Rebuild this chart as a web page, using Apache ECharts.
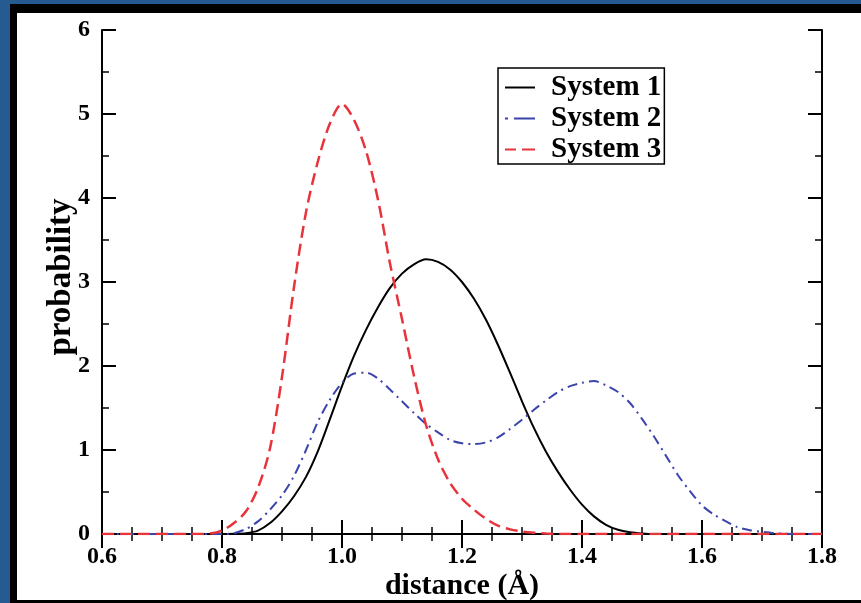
<!DOCTYPE html>
<html>
<head>
<meta charset="utf-8">
<script src="https://cdn.jsdelivr.net/npm/echarts@6/dist/echarts.min.js"></script>
<style>
  html, body { margin: 0; padding: 0; background: #ffffff; }
  #chart { width: 861px; height: 603px; }
</style>
</head>
<body>
<div id="chart"></div>
<script>
// Distance grid (Å), sampled every 0.02 from 0.6 to 1.8
const distance = [
  0.60, 0.62, 0.64, 0.66, 0.68, 0.70, 0.72, 0.74, 0.76, 0.78,
  0.80, 0.82, 0.84, 0.86, 0.88, 0.90, 0.92, 0.94, 0.96, 0.98,
  1.00, 1.02, 1.04, 1.06, 1.08, 1.10, 1.12, 1.14, 1.16, 1.18,
  1.20, 1.22, 1.24, 1.26, 1.28, 1.30, 1.32, 1.34, 1.36, 1.38,
  1.40, 1.42, 1.44, 1.46, 1.48, 1.50, 1.52, 1.54, 1.56, 1.58,
  1.60, 1.62, 1.64, 1.66, 1.68, 1.70, 1.72, 1.74, 1.76, 1.78,
  1.80
];

// Probability distributions for each system
const system1 = [
  0, 0, 0, 0, 0, 0, 0, 0, 0, 0,
  0, 0.003, 0.01, 0.04, 0.13, 0.27, 0.45, 0.68, 0.99, 1.37,
  1.76, 2.12, 2.43, 2.70, 2.93, 3.10, 3.21, 3.27, 3.24, 3.15,
  3.00, 2.80, 2.55, 2.25, 1.92, 1.58, 1.26, 0.98, 0.74, 0.53,
  0.35, 0.21, 0.11, 0.05, 0.02, 0.006, 0, 0, 0, 0,
  0, 0, 0, 0, 0, 0, 0, 0, 0, 0,
  0
];

const system2 = [
  0, 0, 0, 0, 0, 0, 0, 0, 0, 0,
  0, 0.01, 0.06, 0.15, 0.29, 0.46, 0.69, 1.0, 1.34, 1.60,
  1.80, 1.91, 1.92, 1.85, 1.72, 1.58, 1.44, 1.31, 1.21, 1.12,
  1.08, 1.07, 1.09, 1.15, 1.25, 1.36, 1.48, 1.59, 1.69, 1.76,
  1.80, 1.82, 1.77, 1.69, 1.56, 1.37, 1.16, 0.93, 0.70, 0.51,
  0.34, 0.23, 0.15, 0.08, 0.045, 0.025, 0.01, 0.003, 0, 0,
  0
];

const system3 = [
  0, 0, 0, 0, 0, 0, 0, 0, 0, 0.005,
  0.04, 0.13, 0.27, 0.55, 1.02, 1.87, 2.94, 3.83, 4.44, 4.89,
  5.12, 4.93, 4.56, 3.98, 3.22, 2.56, 1.88, 1.30, 0.89, 0.61,
  0.42, 0.29, 0.18, 0.10, 0.055, 0.03, 0.015, 0.005, 0, 0,
  0, 0, 0, 0, 0, 0, 0, 0, 0, 0,
  0, 0, 0, 0, 0, 0, 0, 0, 0, 0,
  0
];

const seriesNames = ['System 1', 'System 2', 'System 3'];

// Legend keys drawn as filled strips: solid, dot-dash, dashed
const legendIcons = [
  'path://M0,0h30v2h-30z',
  'path://M0,0h3v2h-3z M9,0h21v2h-21z',
  'path://M0,0h11v2h-11z M17,0h13v2h-13z'
];

const pairs = ys => distance.map((x, i) => [x, ys[i]]);

const serif = '"Liberation Serif", "DejaVu Serif", serif';
const frameBlue = '#255b90';
const colors = ['#000000', '#3a44aa', '#e8333b'];

const axisLine = { show: true, lineStyle: { color: '#000', width: 2 } };
const axisTick = { show: true, inside: true, length: 14, lineStyle: { color: '#000', width: 2 } };
const minorX = { show: true, length: 7, splitNumber: 4, lineStyle: { color: '#000', width: 1.5 } };
const minorY = { show: true, length: 7, splitNumber: 2, lineStyle: { color: '#000', width: 1.5 } };

const labelStyle = { color: '#000', fontFamily: serif, fontWeight: 'bold', fontSize: 24 };
const titleStyle = { color: '#000', fontFamily: serif, fontWeight: 'bold', fontSize: 30 };

const chart = echarts.init(document.getElementById('chart'), null, { renderer: 'canvas' });

chart.setOption({
  backgroundColor: '#ffffff',
  animation: false,
  graphic: [
    { type: 'rect', shape: { x: 0, y: 0, width: 861, height: 4 }, style: { fill: frameBlue }, silent: true },
    { type: 'rect', shape: { x: 0, y: 0, width: 10, height: 603 }, style: { fill: frameBlue }, silent: true },
    { type: 'rect', shape: { x: 10, y: 4, width: 851, height: 9 }, style: { fill: '#000' }, silent: true },
    { type: 'rect', shape: { x: 10, y: 4, width: 7, height: 599 }, style: { fill: '#000' }, silent: true },
    { type: 'rect', shape: { x: 10, y: 600, width: 851, height: 3 }, style: { fill: '#000' }, silent: true }
  ],
  grid: { left: 102, right: 39, top: 30, bottom: 69, containLabel: false, outerBoundsMode: 'none' },
  legend: {
    data: seriesNames.map((n, i) => ({ name: n, icon: legendIcons[i], itemStyle: { color: colors[i] } })),
    orient: 'vertical',
    left: 498,
    top: 68,
    itemWidth: 30,
    itemHeight: 2,
    itemGap: 2,
    padding: [5, 3, 0, 7],
    borderColor: '#000',
    borderWidth: 1.5,
    backgroundColor: '#fff',
    textStyle: { color: '#000', fontFamily: serif, fontWeight: 'bold', fontSize: 29, padding: [0, 0, 0, 11] }
  },
  xAxis: [
    {
      type: 'value', position: 'bottom', min: 0.6, max: 1.8, interval: 0.2,
      axisLine, axisTick, minorTick: minorX, splitLine: { show: false },
      name: 'distance (Å)', nameLocation: 'middle', nameGap: 37, nameMoveOverlap: false,
      nameTextStyle: titleStyle,
      axisLabel: Object.assign({ margin: 11, formatter: v => v.toFixed(1) }, labelStyle)
    },
    {
      type: 'value', position: 'top', min: 0.6, max: 1.8, interval: 0.2,
      axisLine, axisTick, minorTick: minorX, splitLine: { show: false },
      axisLabel: { show: false }
    }
  ],
  yAxis: [
    {
      type: 'value', position: 'left', min: 0, max: 6, interval: 1,
      axisLine, axisTick, minorTick: minorY, splitLine: { show: false },
      name: 'probability', nameLocation: 'middle', nameGap: 24, nameRotate: 90, nameMoveOverlap: false,
      nameTextStyle: Object.assign({}, titleStyle, { fontSize: 33, padding: [0, 0, 0, 10] }),
      axisLabel: Object.assign({ margin: 12 }, labelStyle)
    },
    {
      type: 'value', position: 'right', min: 0, max: 6, interval: 1,
      axisLine, axisTick, minorTick: minorY, splitLine: { show: false },
      axisLabel: { show: false }
    }
  ],
  series: [
    {
      name: seriesNames[0], type: 'line', data: pairs(system1), showSymbol: false, symbol: 'none',
      smooth: 0.3,
      lineStyle: { color: colors[0], width: 2, type: 'solid' },
      itemStyle: { color: colors[0] }
    },
    {
      name: seriesNames[1], type: 'line', data: pairs(system2), showSymbol: false, symbol: 'none',
      smooth: 0.3,
      lineStyle: { color: colors[1], width: 2, type: [10, 5, 2, 5] },
      itemStyle: { color: colors[1] }
    },
    {
      name: seriesNames[2], type: 'line', data: pairs(system3), showSymbol: false, symbol: 'none',
      smooth: 0.3,
      lineStyle: { color: colors[2], width: 2.5, type: [12, 6] },
      itemStyle: { color: colors[2] }
    }
  ]
});
</script>
</body>
</html>
